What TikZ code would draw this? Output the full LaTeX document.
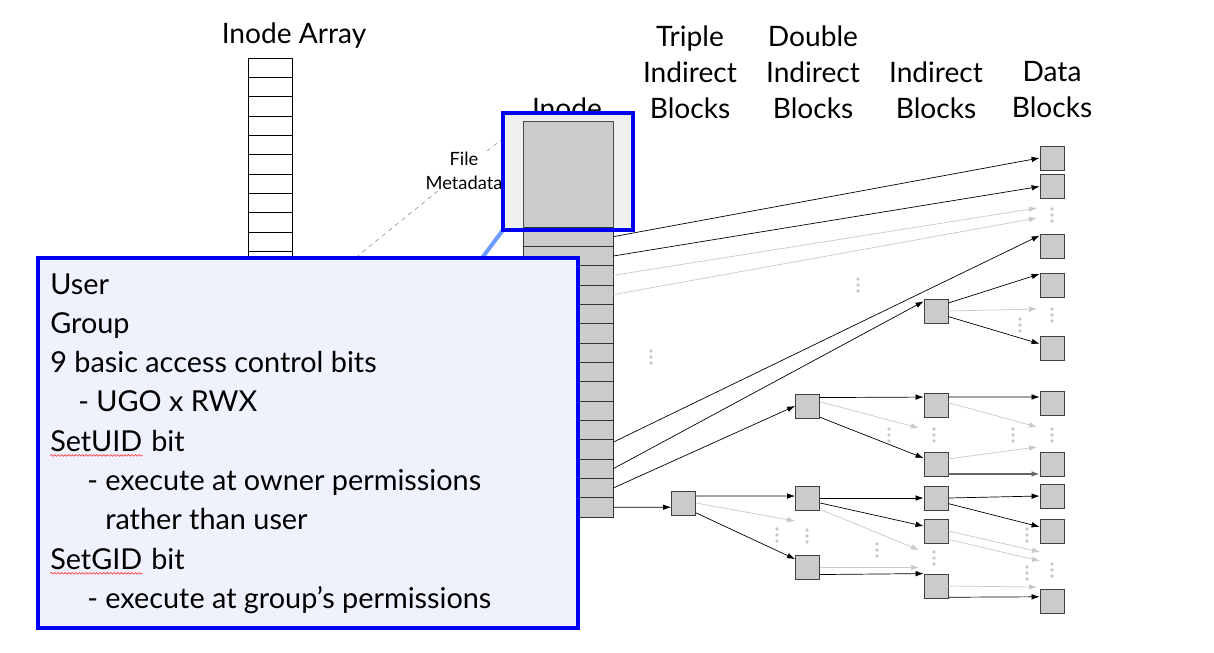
\documentclass[tikz,border=0pt]{standalone}
\usepackage{fontspec}
\setmainfont{Lato}
\usetikzlibrary{arrows.meta,decorations.pathmorphing}
\definecolor{blkgray}{HTML}{CBCBCB}
\definecolor{faint}{HTML}{C8C8C8}
\definecolor{hiblue}{HTML}{0000F0}
\definecolor{popfill}{HTML}{EFF2FD}
\definecolor{tether}{HTML}{6E9BFF}
\definecolor{hifill}{HTML}{EFEFEF}
\tikzset{
  blk/.style={draw=black!75, fill=blkgray, minimum size=0.6cm, inner sep=0pt, line width=0.6pt},
  irow/.style={draw=black!80, fill=blkgray, minimum width=2.25cm, minimum height=0.483cm, inner sep=0pt, line width=0.5pt},
  arow/.style={draw=black, fill=white, minimum width=1.1cm, minimum height=0.483cm, inner sep=0pt, line width=0.5pt},
  lnk/.style={-{Latex[length=2mm,width=1.4mm]}, line width=0.5pt, black},
  ghost/.style={-{Latex[length=2mm,width=1.4mm]}, line width=0.5pt, faint},
  hdr/.style={align=center, font=\fontsize{20}{25.6}\selectfont},
  ptxt/.style={anchor=base west, inner sep=0pt, font=\fontsize{20.5}{25}\selectfont},
  squiggle/.style={red!85, line width=0.4pt, decorate, decoration={snake, amplitude=0.6pt, segment length=2.5pt}},
  gdots/.pic={\fill[faint] (0,-6) circle (1.4pt) (0,0) circle (1.4pt) (0,6) circle (1.4pt);}
}
\begin{document}
\begin{tikzpicture}[x=0.025cm, y=-0.025cm]
  \useasboundingbox (0,0) rectangle (1214,652);
  % column titles
  \node[hdr] (harr) at (294,36) {Inode Array};
  \node[hdr] (hino) at (567,108) {Inode};
  \node[hdr] (htri) at (690,72) {Triple\\Indirect\\Blocks};
  \node[hdr] (hdbl) at (813,72) {Double\\Indirect\\Blocks};
  \node[hdr] (hind) at (936,90) {Indirect\\Blocks};
  \node[hdr] (hdat) at (1052,90) {Data\\Blocks};

  % inode array
  \foreach \k in {1,...,20}
    \node[arow] (a\k) at (270,{48.33+19.33*\k}) {};
  \coordinate (metatl) at (523,122);
  \draw[dashed, black!45, line width=0.4pt] (metatl) -- (a14.north east);
  \node[fill=white, inner sep=1pt, align=center, font=\fontsize{13}{17}\selectfont] (fmeta) at (464,171) {File\\Metadata};

  % the inode
  \node[fill=hifill, minimum width=3.25cm, minimum height=2.925cm, inner sep=0pt] (hl) at (568,171.5) {};
  \node[draw=black!70, fill=blkgray, minimum width=2.25cm, minimum height=2.63cm, inner sep=0pt, line width=0.5pt] (meta) at (568,174.3) {};
  \foreach \k in {1,...,15}
    \node[irow] (r\k) at (568,{217.33+19.33*\k}) {};

  % blocks
  \node[blk] (t1) at (683.5,503) {};
  \node[blk] (db1) at (807.5,406) {};
  \node[blk] (db2) at (807.5,498) {};
  \node[blk] (db3) at (807.5,567.5) {};
  \foreach \n/\y in {1/311,2/405.5,3/464.5,4/498,5/531,6/586}
    \node[blk] (i\n) at (936,\y) {};
  \foreach \n/\y in {1/158,2/186.5,3/246,4/285,5/348,6/403,7/464.5,8/496,9/531,10/601}
    \node[blk] (d\n) at (1052,\y) {};

  % loose ends of the grey pointers
  \coordinate (e1) at (1037,208);
  \coordinate (e2) at (1037,218);
  \coordinate (e3) at (1037,309);
  \coordinate (e4) at (919,428);
  \coordinate (e5) at (1037,427);
  \coordinate (e6) at (1037,447);
  \coordinate (e7) at (795,521);
  \coordinate (e8) at (919,550);
  \coordinate (e9) at (919,567.5);
  \coordinate (e10) at (1040,552);
  \coordinate (e11) at (1040,561);
  \coordinate (e12) at (1037,587);

  % direct pointers
  \draw[lnk] (r1.east) -- (d1.west);
  \draw[lnk] (r2.east) -- (d2.west);
  \draw[ghost] (r3.east) -- (e1);
  \draw[ghost] (r4.east) -- (e2);
  \draw[lnk] ([yshift=-2pt]r12.north east) -- ([yshift=-1.4pt]d3.north west);
  \draw[lnk] (r13.east) -- ([yshift=-2pt]i1.north west);
  \draw[lnk] (r14.east) -- (db1.west);
  \draw[lnk] (r15.east) -- ([yshift=-3pt]t1.west);

  % single indirect
  \draw[lnk] ([yshift=5.7pt]i1.east) -- ([yshift=-1pt]d4.north west);
  \draw[ghost] (i1.east) -- (e3);
  \draw[lnk] ([yshift=-4pt]i1.east) -- ([yshift=3pt]d5.west);

  % double indirect
  \draw[lnk] ([yshift=6pt]db1.east) -- ([yshift=6pt]i2.west);
  \draw[ghost] ([yshift=3pt]db1.east) -- (e4);
  \draw[lnk] ([yshift=-8pt]db1.east) -- ([yshift=4.6pt]i3.west);
  \draw[lnk] ([yshift=6pt]i2.east) -- ([yshift=4.3pt]d6.west);
  \draw[ghost] ([yshift=2pt]i2.east) -- (e5);
  \draw[ghost] ([yshift=4pt]i3.east) -- (e6);
  \draw[lnk, black!60, line width=0.9pt] ([yshift=-6.7pt]i3.east) -- ([yshift=-6.7pt]d7.west);

  % triple indirect
  \draw[lnk] ([yshift=5pt]t1.east) -- ([yshift=1.4pt]db2.west);
  \draw[ghost] (t1.east) -- (e7);
  \draw[lnk] ([yshift=-7pt]t1.east) -- ([yshift=6pt]db3.west);
  \draw[lnk] (db2.east) -- (i4.west);
  \draw[lnk] ([yshift=-3.5pt]db2.east) -- ([yshift=3.5pt]i5.west);
  \draw[ghost] ([yshift=-8pt]db2.east) -- (e8);
  \draw[ghost] (db3.east) -- (e9);
  \draw[lnk] ([yshift=-5pt]db3.east) -- (i6.north west);
  \draw[lnk] (i4.east) -- (d8.west);
  \draw[lnk] ([yshift=-4pt]i4.east) -- ([yshift=3pt]d9.west);
  \draw[ghost] (i5.east) -- (e10);
  \draw[ghost] ([yshift=-6pt]i5.east) -- (e11);
  \draw[ghost] (i6.east) -- (e12);
  \draw[lnk] ([yshift=-8pt]i6.east) -- ([yshift=3pt]d10.west);

  % more of the same
  \foreach \x/\y in {858/285,651/357,889/435,934/435,1013/435,1052/435,777/535,807/536,877/550,934/558,1027/535,1027/573,1052/570,1052/215,1052/315,1020/325}
    \pic at (\x,\y) {gdots};

  % call-out
  \coordinate (popin) at (482,258);
  \draw[tether, line width=2.85pt] (hl.south west) -- (popin);
  \draw[hiblue, line width=2.85pt] (hl.north west) rectangle (hl.south east);
  \node[draw=hiblue, fill=popfill, line width=2.85pt, minimum width=13.5cm, minimum height=9.25cm, inner sep=0pt] (pop) at (308,443) {};
  \node[ptxt] (l1) at (50,294) {User};
  \node[ptxt] (l2) at (50,333.3) {Group};
  \node[ptxt] (l3) at (50,372.6) {9 basic access control bits};
  \node[ptxt] (l4) at (78,411.9) {- UGO x RWX};
  \node[ptxt] (l5) at (50,451.2) {SetUID};
  \node[ptxt] (l5b) at ([xshift=6pt]l5.base east) {bit};
  \node[ptxt] (l6) at (87,490.5) {- execute at owner permissions};
  \node[ptxt] (l7) at (105,529.8) {rather than user};
  \node[ptxt] (l8) at (50,569.1) {SetGID};
  \node[ptxt] (l8b) at ([xshift=6pt]l8.base east) {bit};
  \node[ptxt] (l9) at (87,608.4) {- execute at group’s permissions};
  \draw[squiggle] ([yshift=-3pt]l5.base west) -- ([yshift=-3pt]l5.base east);
  \draw[squiggle] ([yshift=-3pt]l8.base west) -- ([yshift=-3pt]l8.base east);
\end{tikzpicture}
\end{document}
